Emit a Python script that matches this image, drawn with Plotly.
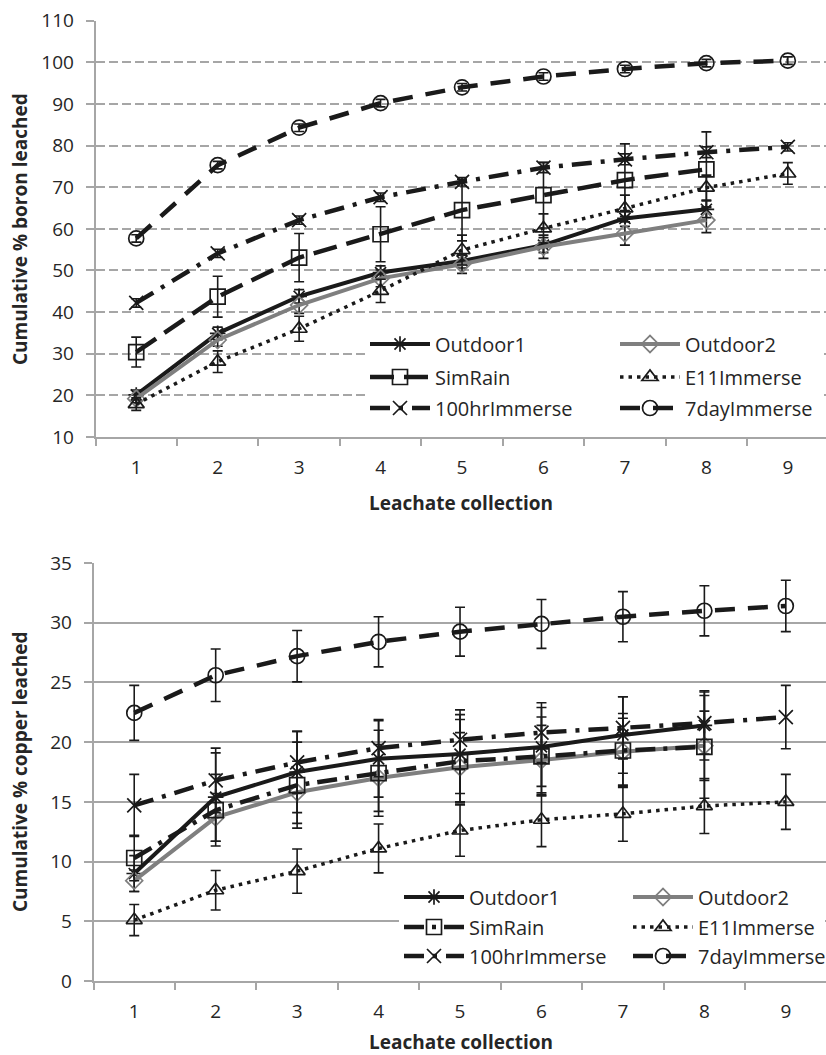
import plotly.graph_objects as go

# ---------------- data ----------------
collections = [1, 2, 3, 4, 5, 6, 7, 8, 9]
x_ticks = [1, 2, 3, 4, 5, 6, 7, 8, 9]
x_tick_labels = ["1", "2", "3", "4", "5", "6", "7", "8", "9"]
series_names = ["Outdoor1", "Outdoor2", "SimRain", "E11Immerse", "100hrImmerse", "7dayImmerse"]

# Boron (top chart)
boron_outdoor1 = [20.1, 34.9, 43.8, 49.5, 52.3, 56.1, 62.5, 64.7]
boron_outdoor2 = [19.2, 33.3, 41.7, 48.1, 51.5, 55.7, 58.9, 62.1]
boron_simrain = [30.4, 43.7, 53.1, 58.7, 64.5, 68.1, 71.7, 74.3]
boron_e11 = [17.9, 28.1, 36.0, 45.1, 54.9, 60.1, 64.9, 69.9, 73.3]
boron_100hr = [42.2, 54.1, 62.1, 67.6, 71.3, 74.7, 76.7, 78.4, 79.7]
boron_7day = [57.7, 75.3, 84.3, 90.2, 94.0, 96.6, 98.4, 99.8, 100.4]

boron_outdoor1_err = [1.2, 1.5, 1.6, 1.6, 1.7, 1.8, 1.9, 2.0]
boron_outdoor2_err = [1.0, 1.5, 2.0, 2.0, 2.2, 2.8, 2.8, 3.0]
boron_simrain_err = [3.6, 4.9, 5.8, 6.6, 7.4, 7.9, 8.7, 9.0]
boron_e11_err = [1.5, 2.6, 3.0, 2.8, 3.6, 3.5, 3.2, 3.0, 2.6]
boron_100hr_err = [1.0, 1.0, 1.0, 1.0, 1.0, 1.2, 1.3, 1.3, 1.0]
boron_7day_err = [0.9, 0.9, 0.9, 0.9, 0.9, 0.9, 0.9, 0.9, 0.9]

# Copper (bottom chart)
copper_outdoor1 = [9.0, 15.4, 17.5, 18.6, 19.0, 19.6, 20.6, 21.4]
copper_outdoor2 = [8.4, 13.7, 15.8, 17.0, 17.9, 18.5, 19.2, 19.7]
copper_simrain = [10.3, 14.3, 16.4, 17.4, 18.4, 18.8, 19.3, 19.6]
copper_e11 = [5.1, 7.6, 9.2, 11.1, 12.6, 13.5, 14.0, 14.65, 15.0]
copper_100hr = [14.7, 16.8, 18.3, 19.5, 20.2, 20.8, 21.2, 21.6, 22.1]
copper_7day = [22.45, 25.6, 27.2, 28.4, 29.25, 29.9, 30.5, 31.0, 31.4]

copper_outdoor1_err = [1.5, 3.7, 3.4, 3.2, 3.3, 3.3, 3.2, 2.9]
copper_outdoor2_err = [0.9, 2.0, 2.6, 2.8, 2.9, 2.9, 2.8, 2.9]
copper_simrain_err = [1.9, 3.0, 3.6, 3.6, 3.5, 3.3, 3.1, 4.3]
copper_e11_err = [1.3, 1.65, 1.85, 2.05, 2.15, 2.25, 2.3, 2.3, 2.3]
copper_100hr_err = [2.6, 2.7, 2.6, 2.4, 2.5, 2.5, 2.6, 2.6, 2.65]
copper_7day_err = [2.3, 2.2, 2.15, 2.1, 2.05, 2.05, 2.1, 2.1, 2.15]

boron_series = [boron_outdoor1, boron_outdoor2, boron_simrain, boron_e11, boron_100hr, boron_7day]
boron_errors = [boron_outdoor1_err, boron_outdoor2_err, boron_simrain_err, boron_e11_err, boron_100hr_err, boron_7day_err]
copper_series = [copper_outdoor1, copper_outdoor2, copper_simrain, copper_e11, copper_100hr, copper_7day]
copper_errors = [copper_outdoor1_err, copper_outdoor2_err, copper_simrain_err, copper_e11_err, copper_100hr_err, copper_7day_err]

# ---------------- styles ----------------
BLACK = "#1a1a1a"
GRAY = "#7f7f7f"
GRID = "#a6a6a6"
TEXT = "#262626"
FONT = "Open Sans"

styles_top = [
    dict(color=BLACK, width=4, dash="solid", symbol="asterisk-open", size=13),
    dict(color=GRAY, width=4, dash="solid", symbol="diamond-open", size=13),
    dict(color=BLACK, width=4.5, dash="24px,10px", symbol="square-open", size=15),
    dict(color=BLACK, width=3.5, dash="3.5px,5px", symbol="triangle-up-open", size=14),
    dict(color=BLACK, width=4.5, dash="20px,9px,4px,9px", symbol="x-thin-open", size=14),
    dict(color=BLACK, width=4.5, dash="20px,13px", symbol="circle-open", size=15),
]
styles_bot = [dict(s) for s in styles_top]
styles_bot[2]["dash"] = "20px,8px,4px,8px"

legends_top = ["legend", "legend", "legend2", "legend2", "legend3", "legend3"]
legends_bot = ["legend4", "legend4", "legend5", "legend5", "legend6", "legend6"]
# legend entry widths (col 1 fixed, col 2 just fits its text)
lw_top = [175, 130, 175, 130, 175, 130]
lw_bot = [154, 122, 154, 122, 154, 122]

fig = go.Figure()


def add_traces(series, errors, styles, legends, lws, xa, ya):
    for name, ys, es, st, lg, lw in zip(series_names, series, errors, styles, legends, lws):
        fig.add_trace(go.Scatter(
            x=collections[:len(ys)], y=ys, name=name, mode="lines+markers",
            xaxis=xa, yaxis=ya, legend=lg, legendwidth=lw,
            line=dict(color=st["color"], width=st["width"], dash=st["dash"]),
            marker=dict(symbol=st["symbol"], size=st["size"], color=st["color"],
                        line=dict(width=1.7, color=st["color"])),
            error_y=dict(type="data", array=es, visible=True, color=BLACK,
                         thickness=1.6, width=5),
        ))


add_traces(boron_series, boron_errors, styles_top, legends_top, lw_top, "x", "y")
add_traces(copper_series, copper_errors, styles_bot, legends_bot, lw_bot, "x2", "y2")

W, H = 826, 1055
top_left, bot_left = 95.5, 93.5
px_per_unit = 81.45


def xaxis_common(left):
    return dict(
        domain=[left / W, 1.0],
        range=[0.5, 0.5 + (W - left) / px_per_unit],
        automargin=False,
        tickmode="array", tickvals=x_ticks, ticktext=x_tick_labels,
        ticks="", showgrid=False, zeroline=False,
        showline=True, linecolor=GRID, linewidth=1.5,
        tickfont=dict(family=FONT, size=19, color=TEXT),
        ticklabelstandoff=12,
        minor=dict(tickmode="array", tickvals=[v + 0.5 for v in [0] + x_ticks],
                   ticks="outside", ticklen=7, tickwidth=1.5, tickcolor=GRID, showgrid=False),
    )


def yaxis_common(dom, rng, dt, griddash):
    return dict(
        domain=dom, range=rng, dtick=dt, tick0=0,
        automargin=False,
        showgrid=True, gridcolor=GRID, gridwidth=1.5, griddash=griddash,
        zeroline=False, showline=True, linecolor=GRID, linewidth=1.5,
        ticks="outside", ticklen=8, tickwidth=1.5, tickcolor=GRID,
        tickfont=dict(family=FONT, size=19, color=TEXT),
        ticklabelstandoff=8,
    )


def legend_at(xpx, ypx):
    return dict(orientation="h", x=xpx / W, y=1 - ypx / H, xanchor="left", yanchor="middle",
                bgcolor="white", borderwidth=0, itemwidth=60,
                font=dict(family=FONT, size=20, color=TEXT))


def title_annot(text, xpx, ypx, angle=0):
    return dict(text="<b>" + text + "</b>", x=xpx / W, y=1 - ypx / H, xref="paper", yref="paper",
                xanchor="center", yanchor="middle", showarrow=False, textangle=angle,
                font=dict(family=FONT, size=19, color=TEXT))


annots = [
    title_annot("Leachate collection", 461, 503),
    title_annot("Leachate collection", 461, 1042),
    title_annot("Cumulative % boron leached", 20, 229, -90),
    title_annot("Cumulative % copper leached", 20, 772, -90),
]

fig.update_layout(
    width=W, height=H, margin=dict(l=0, r=0, t=0, b=0, autoexpand=False),
    paper_bgcolor="white", plot_bgcolor="white",
    showlegend=True,
    xaxis=dict(anchor="y", **xaxis_common(top_left)),
    yaxis=dict(anchor="x", **yaxis_common([1 - 437 / H, 1 - 20.7 / H], [10, 110], 10, "9px,4px")),
    xaxis2=dict(anchor="y2", **xaxis_common(bot_left)),
    yaxis2=dict(anchor="x2", **yaxis_common([1 - 981 / H, 1 - 563 / H], [0, 35], 5, "solid")),
    legend=legend_at(365, 344),
    legend2=legend_at(365, 377),
    legend3=legend_at(365, 408),
    legend4=legend_at(399, 897),
    legend5=legend_at(399, 927),
    legend6=legend_at(399, 956),
    annotations=annots,
)

fig.write_html("out.html", config={"displayModeBar": False},
               post_script="document.body.style.margin='0px';")
